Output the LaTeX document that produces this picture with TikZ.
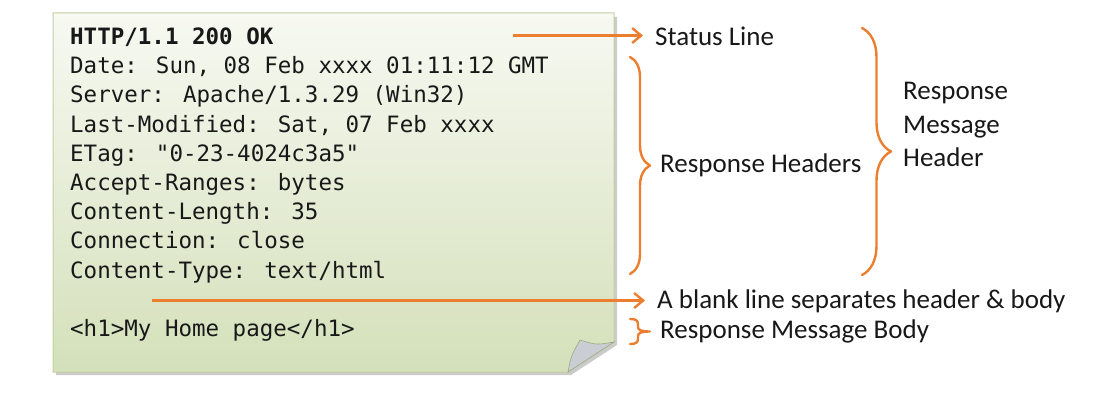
\documentclass[tikz,border=0pt]{standalone}
\usepackage{fontspec}
\setmainfont{Carlito}
\newfontfamily\codefont{DejaVu Sans Mono}
\usetikzlibrary{arrows.meta,decorations.pathreplacing}
\definecolor{arrOrange}{RGB}{236,126,48}
\definecolor{noteTop}{RGB}{247,249,242}
\definecolor{noteBot}{RGB}{212,224,186}
\definecolor{noteLine}{RGB}{196,208,164}
\definecolor{foldGrey}{RGB}{202,206,212}
\definecolor{inkDark}{RGB}{24,24,24}
\begin{document}
\begin{tikzpicture}[x=1pt,y=-1pt,
  code/.style={anchor=base west,inner sep=0pt,text=inkDark,font=\codefont\fontsize{22.5}{27}\selectfont},
  lbl/.style={anchor=base west,inner sep=0pt,text=inkDark,font=\fontsize{27}{32}\selectfont},
  arr/.style={arrOrange,line width=2.4pt,-{Straight Barb[length=9pt,width=15pt,line width=2.4pt]},shorten >=12pt},
  brc/.style={arrOrange,line width=2.4pt,line cap=round,line join=round}]
\useasboundingbox (0,0) rectangle (1099,401);
% the note
\fill [black!45,opacity=.45] (56,17) -- (617,17) -- (617,345) -- (571,375) -- (56,375) -- cycle;
\shade [top color=noteTop,bottom color=noteBot,draw=noteLine,line width=1pt]
  (53,13) -- (614,13) -- (614,342) -- (568,372) -- (53,372) -- cycle;
\fill [foldGrey,draw=noteLine!80!black,line width=.6pt]
  (568,372) .. controls (571,356) .. (580,340) .. controls (596,345) .. (614,342) -- cycle;
% response text
\node (http) at (70,44.5) [code] {\bfseries HTTP/1.1 200 OK};
\node (date) at (70,73.7) [code] {Date: Sun, 08 Feb xxxx 01:11:12 GMT};
\node (server) at (70,102.9) [code] {Server: Apache/1.3.29 (Win32)};
\node (lastmod) at (70,132.1) [code] {Last-Modified: Sat, 07 Feb xxxx};
\node (etag) at (70,161.3) [code] {ETag: "0-23-4024c3a5"};
\node (ranges) at (70,190.5) [code] {Accept-Ranges: bytes};
\node (clen) at (70,219.7) [code] {Content-Length: 35};
\node (conn) at (70,248.9) [code] {Connection: close};
\node (ctype) at (70,278.1) [code] {Content-Type: text/html};
\node (h1) at (70,336.5) [code] {<h1>My Home page</h1>};
% labels
\node (status) at (655,46) [lbl] {Status Line};
\node (headers) at (660,172.5) [lbl] {Response Headers};
\node (rmh1) at (903,100) [lbl] {Response};
\node (rmh2) at (903,133) [lbl] {Message};
\node (rmh3) at (903,166.5) [lbl] {Header};
\node (blank) at (657,308.3) [lbl] {A blank line separates header \& body};
\node (body) at (660,338.3) [lbl] {Response Message Body};
% arrows
\coordinate (sl) at (513,35.5);
\coordinate (bl) at (152,300.5);
\draw [arr] (sl) -- (sl -| status.west);
\draw [arr] (bl) -- (bl -| blank.west);
% braces
\coordinate (hb1) at (630,57);
\coordinate (hb2) at (630,274);
\coordinate (mb1) at (862,28);
\coordinate (mb2) at (862,275);
\draw [brc,decorate,decoration={brace,amplitude=20pt}] (hb1) -- (hb2);
\draw [brc,decorate,decoration={brace,amplitude=29pt}] (mb1) -- (mb2);
\draw [brc] (630,319) .. controls (637,319) and (638,321) .. (638,325) -- (638,327)
  .. controls (638,330) and (641,331.5) .. (650,331.5)
  .. controls (641,331.5) and (638,333) .. (638,336) -- (638,338)
  .. controls (638,342) and (637,344) .. (630,344);
\end{tikzpicture}
\end{document}
